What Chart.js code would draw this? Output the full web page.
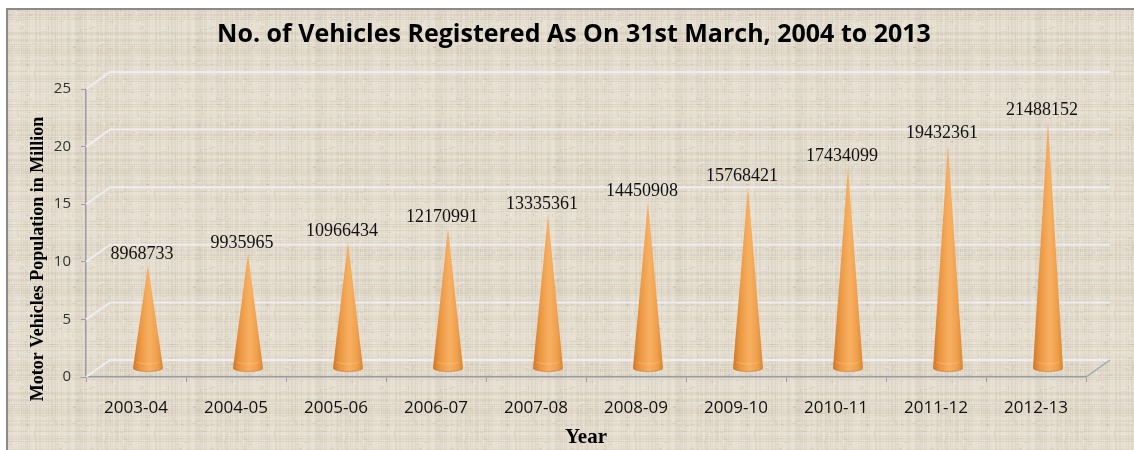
<!DOCTYPE html>
<html>
<head>
<meta charset="utf-8">
<script src="https://cdn.jsdelivr.net/npm/chart.js@4.4.0/dist/chart.umd.min.js"></script>
<style>
  html, body { margin: 0; padding: 0; background: #fff; }
  #wrap { width: 1134px; height: 450px; }
</style>
</head>
<body>
<div id="wrap"><canvas id="chart" width="1134" height="450"></canvas></div>
<script>
// Data
const years = ['2003-04', '2004-05', '2005-06', '2006-07', '2007-08', '2008-09', '2009-10', '2010-11', '2011-12', '2012-13'];
const vehicles = [8968733, 9935965, 10966434, 12170991, 13335361, 14450908, 15768421, 17434099, 19432361, 21488152];
const yTicks = [0, 5, 10, 15, 20, 25];
const chartTitle = 'No. of Vehicles Registered As On 31st March, 2004 to 2013';
const yTitle = 'Motor Vehicles Population in Million';

// 3D depth offset of the back wall
const DEPTH_X = 24;
const DEPTH_Y = 17;

// fine woven linen texture for the background
function makeTexture() {
    const t = document.createElement('canvas');
    t.width = 120;
    t.height = 120;
    const c = t.getContext('2d');
    c.fillStyle = '#ded6c6';
    c.fillRect(0, 0, 120, 120);
    for (let i = 0; i < 120; i++) {
        const a = Math.abs(Math.sin(i * 12.9898) * 43758.5453) % 1;
        const b = Math.abs(Math.sin(i * 78.233) * 12345.678) % 1;
        c.fillStyle = a > 0.5 ? 'rgba(244,239,229,' + (a * 0.35) + ')' : 'rgba(190,178,160,' + (a * 0.35) + ')';
        c.fillRect(0, i, 120, 1);
        c.fillStyle = b > 0.5 ? 'rgba(244,239,229,' + (b * 0.3) + ')' : 'rgba(190,178,160,' + (b * 0.3) + ')';
        c.fillRect(i, 0, 1, 120);
    }
    for (let i = 0; i < 260; i++) {
        const x = Math.floor((Math.abs(Math.sin(i * 3.17) * 9999) % 1) * 120);
        const y = Math.floor((Math.abs(Math.sin(i * 7.31) * 5555) % 1) * 120);
        c.fillStyle = i % 2 ? 'rgba(175,163,143,0.25)' : 'rgba(250,246,238,0.35)';
        c.fillRect(x, y, i % 3 ? 3 : 1, i % 3 ? 1 : 3);
    }
    return t;
}

const backgroundPlugin = {
    id: 'linenBackground',
    beforeDraw(chart) {
        const ctx = chart.ctx;
        ctx.save();
        ctx.fillStyle = '#ffffff';
        ctx.fillRect(0, 0, chart.width, chart.height);
        ctx.fillStyle = ctx.createPattern(makeTexture(), 'repeat');
        ctx.fillRect(7, 9, chart.width - 7, chart.height - 9);
        ctx.strokeStyle = '#8a8a8a';
        ctx.lineWidth = 2;
        ctx.beginPath();
        ctx.moveTo(7, chart.height);
        ctx.lineTo(7, 9);
        ctx.lineTo(chart.width, 9);
        ctx.stroke();

        // chart title, centred over the plot as in the original
        ctx.fillStyle = '#000';
        ctx.font = 'bold 25px "Open Sans", sans-serif';
        ctx.textAlign = 'center';
        ctx.textBaseline = 'middle';
        ctx.fillText(chartTitle, 574, 35);
        ctx.restore();
    }
};

// back-wall gridlines, floor edge and the y axis title of the 3D plot
const wallPlugin = {
    id: 'wall3d',
    beforeDatasetsDraw(chart) {
        const ctx = chart.ctx;
        const y = chart.scales.y;
        const area = chart.chartArea;
        ctx.save();
        ctx.strokeStyle = 'rgba(238,238,244,0.9)';
        ctx.lineWidth = 2;
        y.ticks.forEach(t => {
            const py = y.getPixelForValue(t.value);
            ctx.beginPath();
            ctx.moveTo(area.left, py);
            ctx.lineTo(area.left + DEPTH_X, py - DEPTH_Y);
            ctx.lineTo(area.right + DEPTH_X, py - DEPTH_Y);
            ctx.stroke();
        });
        ctx.strokeStyle = '#a3a6ad';
        ctx.lineWidth = 1.5;
        ctx.beginPath();
        ctx.moveTo(area.right, area.bottom);
        ctx.lineTo(area.right + DEPTH_X, area.bottom - DEPTH_Y);
        ctx.stroke();

        // y axis title sits a little below the axis centre
        ctx.translate(38, (area.top + area.bottom) / 2 + 26);
        ctx.rotate(-Math.PI / 2);
        ctx.fillStyle = '#000';
        ctx.font = 'bold 18px "Liberation Serif", "Times New Roman", serif';
        ctx.textAlign = 'center';
        ctx.textBaseline = 'middle';
        ctx.fillText(yTitle, 0, 0);
        ctx.restore();
    }
};

function drawCone(ctx, cx, tipY, baseY, r) {
    const ry = r * 0.24;
    const g = ctx.createLinearGradient(cx - r, 0, cx + r, 0);
    g.addColorStop(0, '#cd782c');
    g.addColorStop(0.25, '#ec9842');
    g.addColorStop(0.55, '#f7b062');
    g.addColorStop(0.8, '#f0a04c');
    g.addColorStop(1, '#d98630');
    ctx.fillStyle = g;
    ctx.beginPath();
    ctx.moveTo(cx, tipY);
    ctx.lineTo(cx + r, baseY);
    ctx.ellipse(cx, baseY, r, ry, 0, 0, Math.PI);
    ctx.closePath();
    ctx.fill();
    ctx.strokeStyle = 'rgba(195,110,40,0.45)';
    ctx.lineWidth = 1.2;
    ctx.beginPath();
    ctx.ellipse(cx, baseY, r - 0.5, ry, 0, 0.15, Math.PI - 0.15);
    ctx.stroke();
    ctx.strokeStyle = 'rgba(255,215,160,0.35)';
    ctx.lineWidth = 1;
    ctx.beginPath();
    ctx.ellipse(cx, baseY - 7, r * 0.8, ry * 0.8, 0, 0.2, Math.PI - 0.2);
    ctx.stroke();
}

const conePlugin = {
    id: 'cones',
    afterDatasetsDraw(chart) {
        const ctx = chart.ctx;
        const meta = chart.getDatasetMeta(0);
        ctx.save();
        meta.data.forEach((bar, i) => {
            const cx = bar.x + DEPTH_X / 2;
            const tipY = bar.y - DEPTH_Y / 2;
            const baseY = bar.base - DEPTH_Y / 2;
            drawCone(ctx, cx, tipY, baseY, 15);
            ctx.fillStyle = '#111';
            ctx.font = '18px "Liberation Serif", "Times New Roman", serif';
            ctx.textAlign = 'center';
            ctx.textBaseline = 'middle';
            ctx.fillText(String(vehicles[i]), cx - 6, tipY - 11);
        });
        ctx.restore();
    }
};

const ctx = document.getElementById('chart').getContext('2d');
new Chart(ctx, {
    type: 'bar',
    data: {
        labels: years,
        datasets: [{
            data: vehicles.map(v => v / 1e6),
            backgroundColor: 'rgba(0,0,0,0)',
            borderWidth: 0
        }]
    },
    options: {
        responsive: false,
        animation: false,
        layout: { padding: { left: 8, top: 89, right: 48, bottom: 0 } },
        plugins: {
            legend: { display: false },
            tooltip: { enabled: false },
            title: { display: false }
        },
        scales: {
            x: {
                grid: { display: true, drawOnChartArea: false, drawTicks: true, tickLength: 5, color: '#9a9ea6', offset: true },
                border: { display: true, color: '#9a9ea6', width: 1.5 },
                ticks: { color: '#111', padding: 16, font: { family: '"Open Sans", sans-serif', size: 17 } },
                title: {
                    display: true,
                    text: 'Year',
                    color: '#000',
                    font: { family: '"Liberation Serif", "Times New Roman", serif', size: 21, weight: 'bold', lineHeight: 1.2 },
                    padding: { top: 0, bottom: 0 }
                },
                afterFit(scale) { scale.height = 73; }
            },
            y: {
                min: 0,
                max: 25,
                afterBuildTicks(scale) { scale.ticks = yTicks.map(v => ({ value: v })); },
                grid: { display: true, drawOnChartArea: false, drawTicks: true, tickLength: 5, color: '#9a9ea6' },
                border: { display: true, color: '#9a9ea6', width: 1.5 },
                ticks: { color: '#333', padding: 10, font: { family: '"Open Sans", sans-serif', size: 15 } },
                afterFit(scale) { scale.width = 78; }
            }
        }
    },
    plugins: [backgroundPlugin, wallPlugin, conePlugin]
});
</script>
</body>
</html>
